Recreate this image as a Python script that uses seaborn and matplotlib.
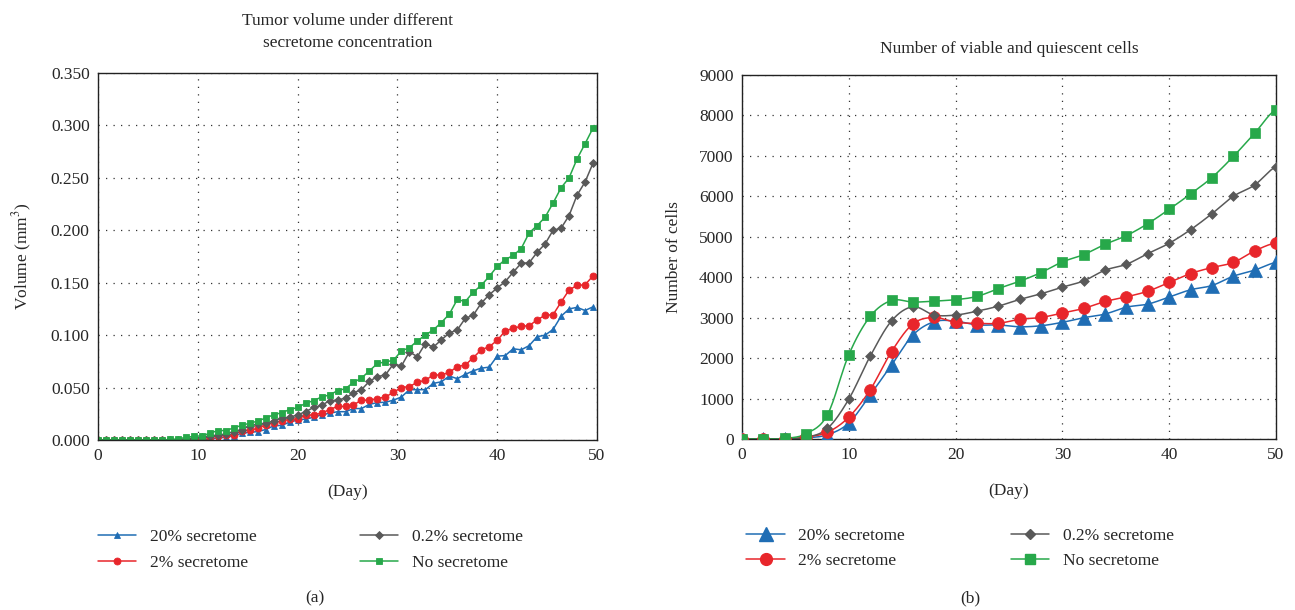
import numpy as np
import pandas as pd
import matplotlib
matplotlib.use("Agg")
import matplotlib.pyplot as plt
import seaborn as sns
from matplotlib.lines import Line2D

# ---- data: panel (a), tumor volume, sampled every 0.8 day ----
days_a = np.arange(63) * 0.8

vol_20 = [0, 0, 0, 0, 0, 0, 0, 0, 0, 0, 0, 0, 0, 0, 0.0005, 0.002, 0.0025, 0.004,
          0.0064, 0.0073, 0.008, 0.010, 0.0134, 0.014, 0.017, 0.019, 0.020, 0.0216,
          0.024, 0.0255, 0.027, 0.027, 0.030, 0.030, 0.034, 0.0357, 0.036, 0.038,
          0.041, 0.048, 0.048, 0.048, 0.054, 0.0555, 0.061, 0.0585, 0.0625, 0.066,
          0.0685, 0.0695, 0.080, 0.0805, 0.087, 0.086, 0.090, 0.0985, 0.100, 0.1055,
          0.118, 0.125, 0.1265, 0.1235, 0.127]
vol_2 = [0, 0, 0, 0, 0, 0, 0, 0, 0, 0, 0, 0, 0, 0.0012, 0.0025, 0.004, 0.0045, 0.005,
         0.009, 0.0095, 0.011, 0.0146, 0.0165, 0.018, 0.0197, 0.020, 0.0235, 0.024,
         0.0255, 0.029, 0.032, 0.032, 0.0335, 0.038, 0.038, 0.0395, 0.041, 0.0455,
         0.050, 0.051, 0.055, 0.057, 0.062, 0.062, 0.0645, 0.070, 0.0715, 0.0785,
         0.086, 0.089, 0.095, 0.104, 0.1065, 0.1085, 0.109, 0.1145, 0.119, 0.1195,
         0.1315, 0.143, 0.1475, 0.148, 0.1565]
vol_02 = [0, 0, 0, 0, 0, 0, 0, 0, 0, 0, 0, 0.001, 0.002, 0.0025, 0.004, 0.0045, 0.0057,
          0.008, 0.010, 0.0134, 0.015, 0.016, 0.018, 0.021, 0.0216, 0.024, 0.027,
          0.031, 0.033, 0.0375, 0.038, 0.040, 0.045, 0.048, 0.056, 0.0605, 0.062,
          0.0725, 0.0705, 0.084, 0.0795, 0.092, 0.0885, 0.0955, 0.102, 0.105, 0.116,
          0.119, 0.1305, 0.1385, 0.145, 0.151, 0.160, 0.1685, 0.169, 0.179, 0.187,
          0.200, 0.202, 0.214, 0.2335, 0.246, 0.264]
vol_no = [0, 0, 0, 0, 0, 0, 0, 0, 0, 0.0005, 0.001, 0.0025, 0.0035, 0.004, 0.0064,
          0.009, 0.009, 0.0115, 0.014, 0.016, 0.018, 0.021, 0.024, 0.026, 0.029, 0.031,
          0.035, 0.0375, 0.041, 0.043, 0.047, 0.049, 0.055, 0.059, 0.066, 0.073,
          0.0745, 0.076, 0.085, 0.088, 0.0945, 0.100, 0.105, 0.112, 0.120, 0.134,
          0.132, 0.141, 0.1475, 0.156, 0.1655, 0.172, 0.176, 0.1825, 0.1975, 0.2045,
          0.2125, 0.226, 0.2405, 0.250, 0.268, 0.2825, 0.2975]

# ---- data: panel (b), number of cells, every 2 days ----
days_b = np.arange(0, 51, 2)

cells_20 = [0, 0, 0, 25, 105, 395, 1090, 1830, 2570, 2900, 2915, 2820, 2820, 2775,
            2800, 2885, 3000, 3090, 3260, 3335, 3510, 3690, 3795, 4025, 4175, 4365]
cells_2 = [0, 0, 0, 50, 165, 540, 1215, 2160, 2845, 3005, 2885, 2860, 2860, 2960,
           3005, 3115, 3230, 3400, 3515, 3655, 3870, 4090, 4240, 4365, 4650, 4850]
cells_02 = [0, 0, 0, 40, 260, 985, 2045, 2920, 3270, 3065, 3065, 3160, 3285, 3450,
            3590, 3755, 3910, 4175, 4320, 4585, 4840, 5175, 5570, 6000, 6280, 6730]
cells_no = [0, 0, 15, 130, 600, 2085, 3030, 3425, 3385, 3410, 3445, 3525, 3720, 3900,
            4115, 4380, 4560, 4815, 5030, 5325, 5680, 6060, 6465, 6985, 7560, 8145]

labels = ["20% secretome", "2% secretome", "0.2% secretome", "No secretome"]
colors = ["#1f6db4", "#e8262b", "#595959", "#27a84a"]
markers = ["^", "o", "D", "s"]
msize_a = [5, 5, 4.2, 4.8]
msize_b = [10, 8.5, 5, 7.5]

sns.set_style("white")
plt.rcParams["font.family"] = ["Liberation Serif", "DejaVu Serif"]
plt.rcParams["mathtext.fontset"] = "stix"

fig = plt.figure(figsize=(12.95, 6.1), dpi=100)
ax1 = fig.add_axes([98 / 1295, 170 / 610, 499 / 1295, 367 / 610])
ax2 = fig.add_axes([742 / 1295, 171 / 610, 534 / 1295, 364 / 610])

grid_kw = dict(color="#333333", linestyle=(0, (1, 5)), linewidth=0.9)


def smooth(x, y, n=16):
    # Catmull-Rom curve through the points, only for drawing the line
    x = np.asarray(x, float)
    y = np.asarray(y, float)
    yp = np.concatenate([[y[0]], y, [y[-1]]])
    t = np.linspace(0, 1, n, endpoint=False)
    xs, ys = [], []
    for i in range(len(x) - 1):
        p0, p1, p2, p3 = yp[i], yp[i + 1], yp[i + 2], yp[i + 3]
        seg = 0.5 * (2 * p1 + (-p0 + p2) * t + (2 * p0 - 5 * p1 + 4 * p2 - p3) * t ** 2
                     + (-p0 + 3 * p1 - 3 * p2 + p3) * t ** 3)
        xs.append(x[i] + (x[i + 1] - x[i]) * t)
        ys.append(seg)
    xs.append([x[-1]])
    ys.append([y[-1]])
    return np.concatenate(xs), np.concatenate(ys)


# panel (a)
series_a = [vol_20, vol_2, vol_02, vol_no]
for vals, lab, c, m, ms in zip(series_a, labels, colors, markers, msize_a):
    sns.lineplot(x=days_a, y=vals, ax=ax1, color=c, marker=m, markersize=ms,
                 markeredgecolor=c, markeredgewidth=0.6, linewidth=1.1, label=lab)

ax1.set_xlim(0, 50)
ax1.set_ylim(0, 0.35)
ax1.set_xticks(range(0, 51, 10))
ax1.set_yticks(np.arange(0, 0.351, 0.05))
ax1.set_yticklabels([f"{v:.3f}" for v in np.arange(0, 0.351, 0.05)])
ax1.grid(True, **grid_kw)
ax1.set_xlabel("(Day)", fontsize=12.5, labelpad=14)
ax1.set_ylabel("Volume (mm$^3$)", fontsize=12.5, labelpad=12)
ax1.set_title("Tumor volume under different\nsecretome concentration",
              fontsize=12.5, pad=19, linespacing=1.5)

# panel (b)
series_b = [cells_20, cells_2, cells_02, cells_no]
handles_b = []
for vals, lab, c, m, ms in zip(series_b, labels, colors, markers, msize_b):
    xs, ys = smooth(days_b, vals)
    ax2.plot(xs, ys, color=c, linewidth=1.1)
    sns.scatterplot(x=days_b, y=vals, ax=ax2, color=c, marker=m, s=ms ** 2,
                    edgecolor=c, linewidth=0.5, zorder=3)
    handles_b.append(Line2D([], [], color=c, marker=m, markersize=ms, linewidth=1.1,
                            markeredgecolor=c))

ax2.set_xlim(0, 50)
ax2.set_ylim(0, 9000)
ax2.set_xticks(range(0, 51, 10))
ax2.set_yticks(range(0, 9001, 1000))
ax2.grid(True, **grid_kw)
ax2.set_xlabel("(Day)", fontsize=12.5, labelpad=14)
ax2.set_ylabel("Number of cells", fontsize=12.5, labelpad=12)
ax2.set_title("Number of viable and quiescent cells", fontsize=12.5, pad=16)

for ax in (ax1, ax2):
    for s in ax.spines.values():
        s.set_color("#222222")
        s.set_linewidth(1.0)
    ax.tick_params(labelsize=12.5, length=0, pad=6)

handles_a, _ = ax1.get_legend_handles_labels()
ax1.legend(handles_a, labels, loc="upper left", bbox_to_anchor=(-0.031, -0.2),
           ncol=2, frameon=False, fontsize=12.5, handlelength=2.2,
           columnspacing=5.95, labelspacing=0.55, handletextpad=0.8)
ax2.legend(handles_b, labels, loc="upper left", bbox_to_anchor=(-0.021, -0.2),
           ncol=2, frameon=False, fontsize=12.5, handlelength=2.2,
           columnspacing=6.1, labelspacing=0.55, handletextpad=0.8)

fig.text(315 / 1295, 1 - 598 / 610, "(a)", ha="center", va="center", fontsize=12.5)
fig.text(970 / 1295, 1 - 598 / 610, "(b)", ha="center", va="center", fontsize=12.5)

fig.savefig("out.png", dpi=100)
